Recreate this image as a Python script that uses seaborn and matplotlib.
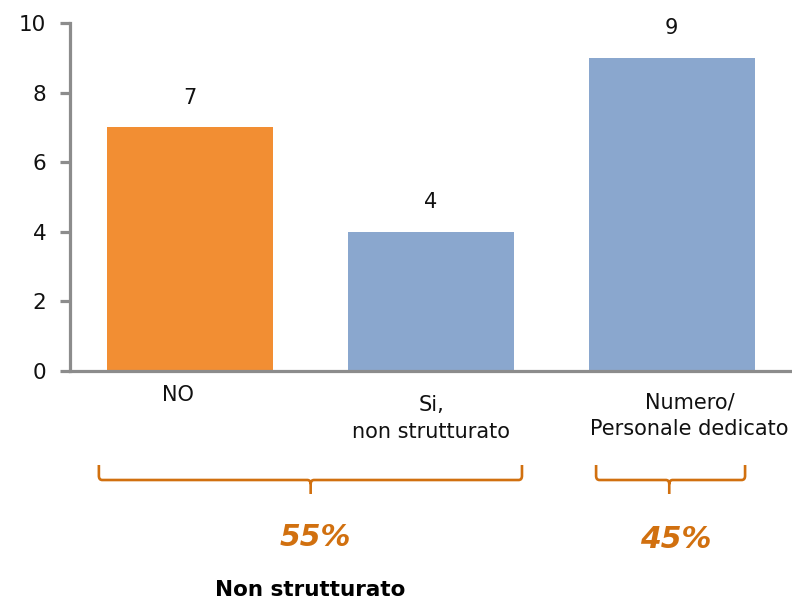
import matplotlib
matplotlib.use("Agg")
import matplotlib.pyplot as plt
from matplotlib.path import Path
from matplotlib.patches import PathPatch
import seaborn as sns
import pandas as pd

# Data
categories = ["NO", "Si,\nnon strutturato", "Numero/\nPersonale dedicato"]
values = [7, 4, 9]
bar_colors = ["#F28E33", "#8AA7CE", "#8AA7CE"]
y_ticks = [0, 2, 4, 6, 8, 10]
group_labels = ["55%", "45%"]
group_title = "Non strutturato"

df = pd.DataFrame({"cat": categories, "val": values})

sns.set_theme(style="white")
plt.rcParams["font.family"] = ["DejaVu Sans"]

H = 602
AX_TOP, AX_BOTTOM = 23, 371
fig = plt.figure(figsize=(7.92, 6.02), dpi=100)
ax = fig.add_axes([70 / 792, 1 - AX_BOTTOM / H, 1 - 70 / 792, (AX_BOTTOM - AX_TOP) / H])


def ay(py):
    """Pixel row -> axes fraction for text below the plot."""
    return (AX_BOTTOM - py) / (AX_BOTTOM - AX_TOP)


sns.barplot(data=df, x="cat", y="val", hue="cat", palette=bar_colors,
            width=0.69, saturation=1, legend=False, ax=ax, linewidth=0)

ax.set_xlim(-0.5, 2.5)
ax.set_ylim(0, 10)
ax.set_yticks(y_ticks)
ax.set_yticklabels([str(t) for t in y_ticks], fontsize=15.5, color="#111111")
ax.set_xticks([])
ax.set_xlabel("")
ax.set_ylabel("")

axis_gray = "#8C8C8C"
for side in ["top", "right"]:
    ax.spines[side].set_visible(False)
for side in ["left", "bottom"]:
    ax.spines[side].set_color(axis_gray)
    ax.spines[side].set_linewidth(2.3)
ax.tick_params(axis="y", length=7, width=2.3, color=axis_gray, pad=10, left=True)

# Value labels above bars
for i, v in enumerate(values):
    ax.annotate(str(v), (i, v), xytext=(0, 21.5), textcoords="offset points",
                ha="center", va="center", fontsize=15, color="#111111")

# Category labels beneath the axis, one line at a time
xt = ax.get_xaxis_transform()
label_dx = [-0.05, 0.0, 0.075]
label_row = [395, 405, 402]
line_gap = 27
for i, lab in enumerate(categories):
    for k, line in enumerate(lab.split("\n")):
        ax.text(i + label_dx[i], ay(label_row[i] + k * line_gap), line,
                transform=xt, ha="center", va="center",
                fontsize=15, color="#111111")

# Brackets grouping the categories
brace_color = "#D1700F"


def brace(x0, x1, xm):
    top, mid, tip = ay(465), ay(480), ay(494)
    r = 0.014
    ry = 0.012
    verts = [
        (x0, top), (x0, mid + ry), (x0, mid), (x0 + r, mid),
        (xm - r, mid), (xm, mid), (xm, mid - ry), (xm, tip),
        (xm, mid - ry), (xm, mid), (xm + r, mid),
        (x1 - r, mid), (x1, mid), (x1, mid + ry), (x1, top),
    ]
    codes = [Path.MOVETO, Path.LINETO, Path.CURVE3, Path.CURVE3,
             Path.LINETO, Path.CURVE3, Path.CURVE3, Path.LINETO,
             Path.MOVETO, Path.CURVE3, Path.CURVE3,
             Path.LINETO, Path.CURVE3, Path.CURVE3, Path.LINETO]
    patch = PathPatch(Path(verts, codes), transform=xt, fill=False,
                      edgecolor=brace_color, linewidth=1.9, clip_on=False,
                      capstyle="butt", joinstyle="round")
    ax.add_patch(patch)


brace(-0.38, 1.378, 0.5)
brace(1.686, 2.305, 1.99)

ax.text(0.52, ay(537), group_labels[0], transform=xt, ha="center", va="center",
        fontsize=21.5, fontstyle="italic", fontweight="bold", color=brace_color)
ax.text(2.015, ay(540), group_labels[1], transform=xt, ha="center", va="center",
        fontsize=21.5, fontstyle="italic", fontweight="bold", color=brace_color)
ax.text(0.5, ay(590), group_title, transform=xt, ha="center", va="center",
        fontsize=15.5, fontweight="bold", color="#000000")

fig.savefig("out.png", dpi=100)
